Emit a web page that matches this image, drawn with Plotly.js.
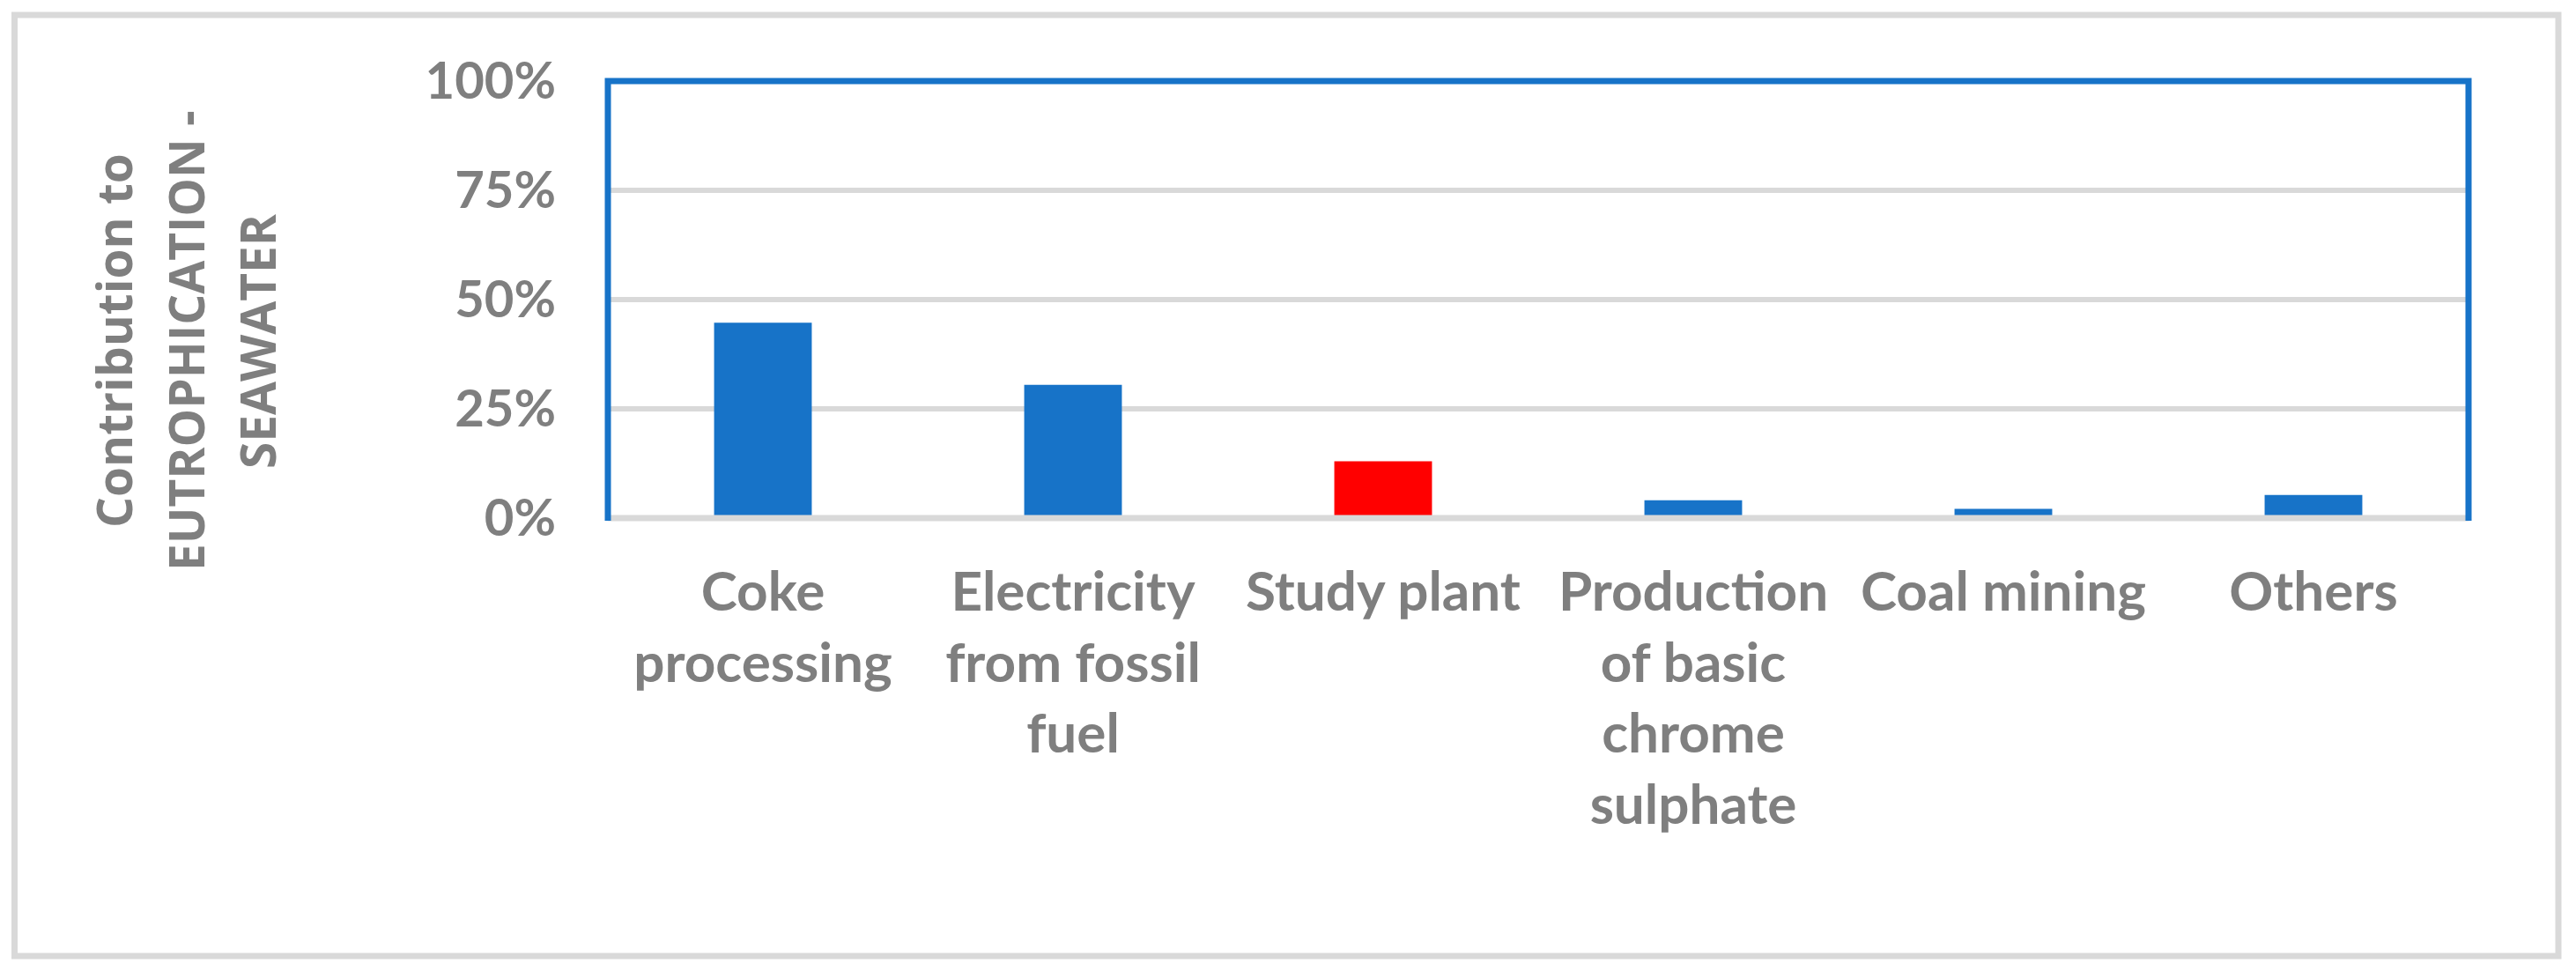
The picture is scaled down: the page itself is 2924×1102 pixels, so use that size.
<!DOCTYPE html>
<html>
<head>
<meta charset="utf-8">
<script src="https://cdn.plot.ly/plotly-3.0.1.min.js"></script>
<style>
  html, body { margin: 0; padding: 0; background: #ffffff; }
  #chart { width: 2924px; height: 1102px; }
</style>
</head>
<body>
<div id="chart"></div>
<script>
// ---- data ----
const categories = [
  "Coke<br>processing",
  "Electricity<br>from fossil<br>fuel",
  "Study plant",
  "Production<br>of basic<br>chrome<br>sulphate",
  "Coal mining",
  "Others"
];
const contributions = [0.447, 0.305, 0.130, 0.041, 0.021, 0.053];
const barColors = ["#1773C8", "#1773C8", "#FF0000", "#1773C8", "#1773C8", "#1773C8"];
const yTickVals = [0, 0.25, 0.5, 0.75, 1];
const yTickText = ["0%", "25%", "50%", "75%", "100%"];
const yTitleLines = ["Contribution to", "EUTROPHICATION -", "SEAWATER"];

// ---- layout helpers ----
const W = 2924, H = 1102;
const L = 690, R = 2802, T = 92, B = 588;
const pw = R - L, ph = B - T;
const px = X => (X - L) / pw;
const py = Y => (B - Y) / ph;

const textGray = "#7f7f7f";
const gridGray = "#d9d9d9";
const frameBlue = "#1773C8";

const titleX = [128, 210, 291];
const annotations = yTitleLines.map((t, i) => ({
  text: t,
  xref: "paper", yref: "paper",
  x: px(titleX[i]), y: py(387),
  xanchor: "center", yanchor: "middle",
  textangle: -90,
  showarrow: false,
  font: { family: "Open Sans", size: 55, color: textGray, weight: "bold" }
}));

const trace = {
  type: "bar",
  x: categories,
  y: contributions,
  marker: { color: barColors, line: { width: 0 } },
  hoverinfo: "skip"
};

const layout = {
  width: W, height: H,
  autosize: false,
  margin: { l: L, r: W - R, t: T, b: H - B, pad: 0 },
  paper_bgcolor: "#ffffff",
  plot_bgcolor: "#ffffff",
  showlegend: false,
  bargap: 0.685,
  xaxis: {
    type: "category",
    showgrid: false, showline: false, zeroline: false,
    ticks: "",
    ticklabelstandoff: 42,
    tickfont: { family: "Lato", size: 62, color: textGray, weight: "bold" },
    fixedrange: true
  },
  yaxis: {
    range: [0, 1],
    tickmode: "array",
    tickvals: yTickVals,
    ticktext: yTickText,
    showgrid: true, gridcolor: gridGray, gridwidth: 6,
    zeroline: false, showline: false,
    ticks: "",
    ticklabelstandoff: 58,
    tickfont: { family: "Lato", size: 58, color: textGray, weight: "bold" },
    fixedrange: true
  },
  shapes: [
    { type: "rect", xref: "paper", yref: "paper",
      x0: px(16.5), x1: px(2904), y0: py(1085), y1: py(17),
      line: { color: gridGray, width: 7 }, fillcolor: "rgba(0,0,0,0)", layer: "below" },
    { type: "line", xref: "paper", yref: "paper",
      x0: 0, x1: 1, y0: 0, y1: 0,
      line: { color: gridGray, width: 7 }, layer: "above" },
    { type: "path", xref: "paper", yref: "paper",
      path: "M 0," + py(591) + " L 0,1 L 1,1 L 1," + py(591),
      line: { color: frameBlue, width: 7 }, layer: "above" }
  ],
  annotations: annotations
};

Plotly.newPlot("chart", [trace], layout, { displayModeBar: false, staticPlot: true });
</script>
</body>
</html>
